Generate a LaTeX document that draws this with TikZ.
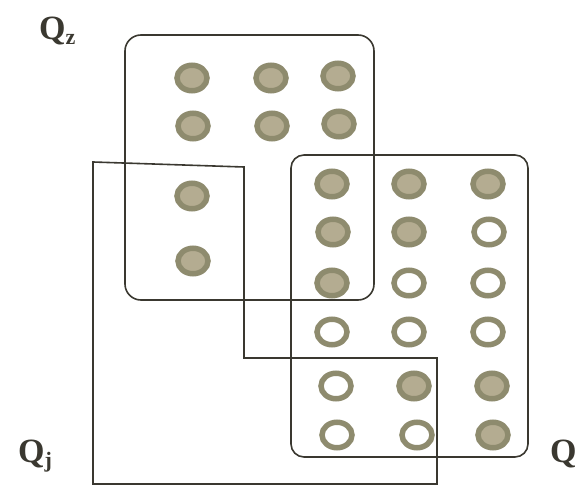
\documentclass[tikz,border=0pt]{standalone}
\usepackage{fontspec}
\setmainfont{Liberation Serif}
\definecolor{ring}{HTML}{8E8B6E}
\definecolor{core}{HTML}{B4AC91}
\definecolor{edge}{HTML}{3A3830}
\tikzset{
  frame/.style={draw=edge, line width=1.6pt},
  dotfull/.style={draw=ring, fill=core, line width=5.5pt, ellipse, minimum width=30pt, minimum height=25.5pt, inner sep=0pt},
  dotopen/.style={draw=ring, fill=white, line width=5.5pt, ellipse, minimum width=30pt, minimum height=25.5pt, inner sep=0pt},
  lbl/.style={font=\bfseries\fontsize{34}{34}\selectfont, text=edge, inner sep=0pt, anchor=base west}
}
\usetikzlibrary{shapes.geometric}
\begin{document}
\begin{tikzpicture}[x=1pt,y=-1pt]
\useasboundingbox (0,0) rectangle (578,486);
% Qj polygon
\coordinate (j1) at (93,162);
\coordinate (j2) at (244,167);
\coordinate (j3) at (244,358);
\coordinate (j4) at (437,358);
\coordinate (j5) at (437,484);
\coordinate (j6) at (93,484);
\draw[frame] (j1) -- (j2) -- (j3) -- (j4) -- (j5) -- (j6) -- cycle;
% Qz box
\draw[frame, rounded corners=16pt] (125,35) rectangle (374,300);
% Q box
\draw[frame, rounded corners=13pt] (291,155) rectangle (528,457);
% Qz dots
\node[dotfull] (z1) at (192,78) {};
\node[dotfull] (z2) at (271,78) {};
\node[dotfull] (z3) at (338,76) {};
\node[dotfull] (z4) at (193,126) {};
\node[dotfull] (z5) at (272,126) {};
\node[dotfull] (z6) at (339,124) {};
\node[dotfull] (z7) at (192,196) {};
\node[dotfull] (z8) at (193,261) {};
% Q dots
\node[dotfull] (a1) at (332,184) {};
\node[dotfull] (a2) at (409,184) {};
\node[dotfull] (a3) at (488,184) {};
\node[dotfull] (b1) at (333,232) {};
\node[dotfull] (b2) at (409,232) {};
\node[dotopen] (b3) at (489,232) {};
\node[dotfull] (c1) at (332,283) {};
\node[dotopen] (c2) at (409,283) {};
\node[dotopen] (c3) at (488,283) {};
\node[dotopen] (d1) at (332,332) {};
\node[dotopen] (d2) at (409,332) {};
\node[dotopen] (d3) at (488,332) {};
\node[dotopen] (e1) at (336,386) {};
\node[dotfull] (e2) at (414,386) {};
\node[dotfull] (e3) at (492,386) {};
\node[dotopen] (f1) at (337,435) {};
\node[dotopen] (f2) at (417,435) {};
\node[dotfull] (f3) at (493,435) {};
% labels
\node[lbl] (lz) at (39,40) {Q\raisebox{-5pt}{\fontsize{22}{22}\selectfont z}};
\node[lbl] (lj) at (18,462) {Q\raisebox{-5pt}{\fontsize{22}{22}\selectfont j}};
\node[lbl] (lq) at (550,462) {Q};
\end{tikzpicture}
\end{document}
